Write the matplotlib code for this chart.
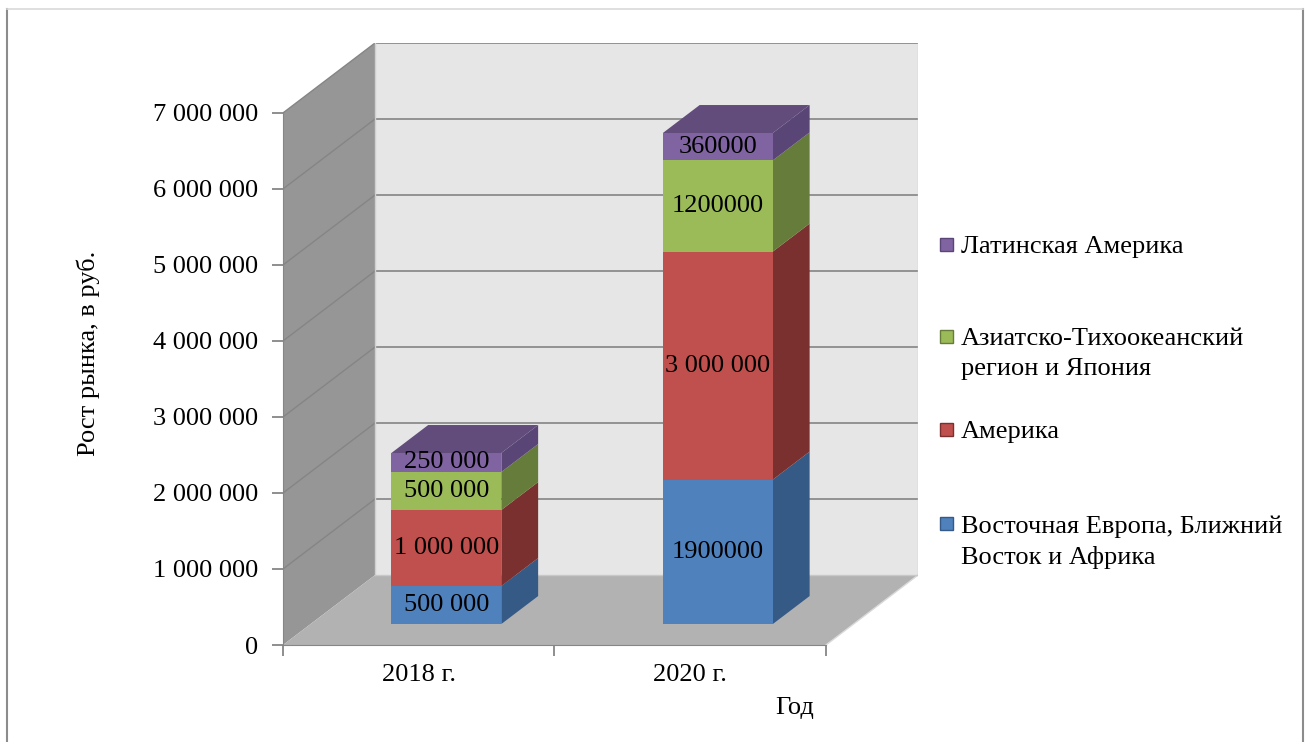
import matplotlib
matplotlib.use("Agg")
import numpy as np
import matplotlib.pyplot as plt
from matplotlib.patches import Polygon, Rectangle
from matplotlib.lines import Line2D

plt.rcParams['font.family'] = ['Liberation Serif', 'DejaVu Serif']

years = ['2018 г.', '2020 г.']
series_names = ['Восточная Европа, Ближний\nВосток и Африка', 'Америка',
                'Азиатско-Тихоокеанский\nрегион и Япония', 'Латинская Америка']
east_europe = [500000, 1900000]
america = [1000000, 3000000]
asia_pacific = [500000, 1200000]
latin_america = [250000, 360000]
labels_2018 = ['500 000', '1 000 000', '500 000', '250 000']
labels_2020 = ['1900000', '3 000 000', '1200000', '360000']
yticks = [0, 1000000, 2000000, 3000000, 4000000, 5000000, 6000000, 7000000]

front_cols = ['#4F81BD', '#C0504D', '#9BBB59', '#8064A2']
side_cols = ['#355A86', '#7A302E', '#667C3A', '#5A4577']
top_cols = ['#3E6699', '#9A3F3D', '#7C9647', '#614C7C']

values = [east_europe, america, asia_pacific, latin_america]
labels = [labels_2018, labels_2020]

# depth of the 3d box in data units
DX = 0.339
DY = 0.92e6
ymax = 7e6
f0, f1 = 0.3, 0.7   # bar front / back as a fraction of depth
bw = 0.405

fig = plt.figure(figsize=(13.1, 7.42), dpi=100)
ax = fig.add_axes([283/1310, 97/742, (918-283)/1310, (645-43)/742])
ax.set_xlim(0, 2 + DX)
ax.set_ylim(0, ymax + DY)

# walls and floor
ax.add_patch(Polygon([(0, 0), (DX, DY), (DX, ymax + DY), (0, ymax)], closed=True,
                     facecolor='#969696', edgecolor='none', zorder=0))
ax.add_patch(Rectangle((DX, DY), 2, ymax, facecolor='#E6E6E6', edgecolor='none', zorder=0))
ax.add_patch(Polygon([(0, 0), (2, 0), (2 + DX, DY), (DX, DY)], closed=True,
                     facecolor='#B2B2B2', edgecolor='none', zorder=0))
for t in yticks[1:]:
    ax.plot([DX, 2 + DX], [t + DY, t + DY], color='#8C8C8C', lw=1.3, zorder=1)
    ax.plot([0, DX], [t, t + DY], color='#858585', lw=1.0, zorder=1)
ax.plot([DX, DX], [DY, ymax + DY], color='#D0D0D0', lw=1.0, zorder=1)
ax.plot([2 + DX, 2 + DX], [DY, ymax + DY], color='#D0D0D0', lw=1.0, zorder=1)
ax.plot([2, 2 + DX], [0, DY], color='#D9D9D9', lw=1.0, zorder=1)
ax.plot([DX, 2 + DX], [DY, DY], color='#C8C8C8', lw=1.0, zorder=1)

centers = np.arange(len(years)) + 0.5
bottoms = np.zeros(len(years))
for k, vals in enumerate(values):
    vals = np.array(vals, dtype=float)
    xs = centers + f0 * DX
    ax.bar(xs, vals, bw, bottom=bottoms + f0 * DY, color=front_cols[k],
           edgecolor='none', zorder=3)
    for i in range(len(years)):
        xr = centers[i] + bw / 2
        xl = centers[i] - bw / 2
        y0 = bottoms[i]
        y1 = bottoms[i] + vals[i]
        ax.add_patch(Polygon([(xr + f0 * DX, y0 + f0 * DY), (xr + f1 * DX, y0 + f1 * DY),
                              (xr + f1 * DX, y1 + f1 * DY), (xr + f0 * DX, y1 + f0 * DY)],
                             closed=True, facecolor=side_cols[k], edgecolor='none', zorder=2))
        if k == len(values) - 1:
            ax.add_patch(Polygon([(xl + f0 * DX, y1 + f0 * DY), (xr + f0 * DX, y1 + f0 * DY),
                                  (xr + f1 * DX, y1 + f1 * DY), (xl + f1 * DX, y1 + f1 * DY)],
                                 closed=True, facecolor=top_cols[k], edgecolor='none', zorder=2))
        ax.text(xs[i], y0 + f0 * DY + vals[i] / 2, labels[i][k], ha='center', va='center',
                fontsize=19, zorder=5)
    bottoms = bottoms + vals

# axes lines and ticks
for s in ['top', 'right']:
    ax.spines[s].set_visible(False)
ax.spines['left'].set_bounds(0, ymax)
ax.spines['bottom'].set_bounds(0, 2)
ax.spines['left'].set_color('#868686')
ax.spines['bottom'].set_color('#868686')
ax.spines['left'].set_zorder(4)
ax.spines['bottom'].set_zorder(4)
ax.set_yticks(yticks)
ax.set_yticklabels(['{:,}'.format(t).replace(',', ' ') for t in yticks], fontsize=19)
ax.set_xticks([0, 1, 2])
ax.set_xticklabels([])
ax.set_xticks(centers, minor=True)
ax.set_xticklabels(years, minor=True, fontsize=19)
ax.tick_params(axis='y', length=8, width=1.3, color='#868686', pad=10)
ax.tick_params(axis='x', which='major', length=8, width=1.3, color='#868686')
ax.tick_params(axis='x', which='minor', length=0, pad=14)

fig.text(88/1310, 1 - 353/742, 'Рост рынка, в руб.', rotation=90, ha='center', va='center',
         fontsize=19)
fig.text(795/1310, 1 - 708/742, 'Год', ha='center', va='center', fontsize=19)

# legend
leg_y = [245, 337, 430, 524]
leg_order = [3, 2, 1, 0]
for yy, k in zip(leg_y, leg_order):
    fig.patches.append(Rectangle((940/1310, 1 - (yy + 6)/742), 13/1310, 13/742,
                                 transform=fig.transFigure, facecolor=front_cols[k],
                                 edgecolor=side_cols[k], lw=1.0))
    fig.text(961/1310, 1 - (yy - 9)/742, series_names[k], ha='left', va='top',
             fontsize=19, linespacing=1.45)

# chart border
fig.add_artist(Line2D([7/1310, 7/1310], [0, 1 - 9/742], color='#8C8C8C', lw=1.5,
                      transform=fig.transFigure))
fig.add_artist(Line2D([1303/1310, 1303/1310], [0, 1 - 9/742], color='#8C8C8C', lw=1.5,
                      transform=fig.transFigure))
fig.add_artist(Line2D([7/1310, 1303/1310], [1 - 9/742, 1 - 9/742], color='#D9D9D9', lw=1.2,
                      transform=fig.transFigure))

fig.savefig('out.png', dpi=100)
